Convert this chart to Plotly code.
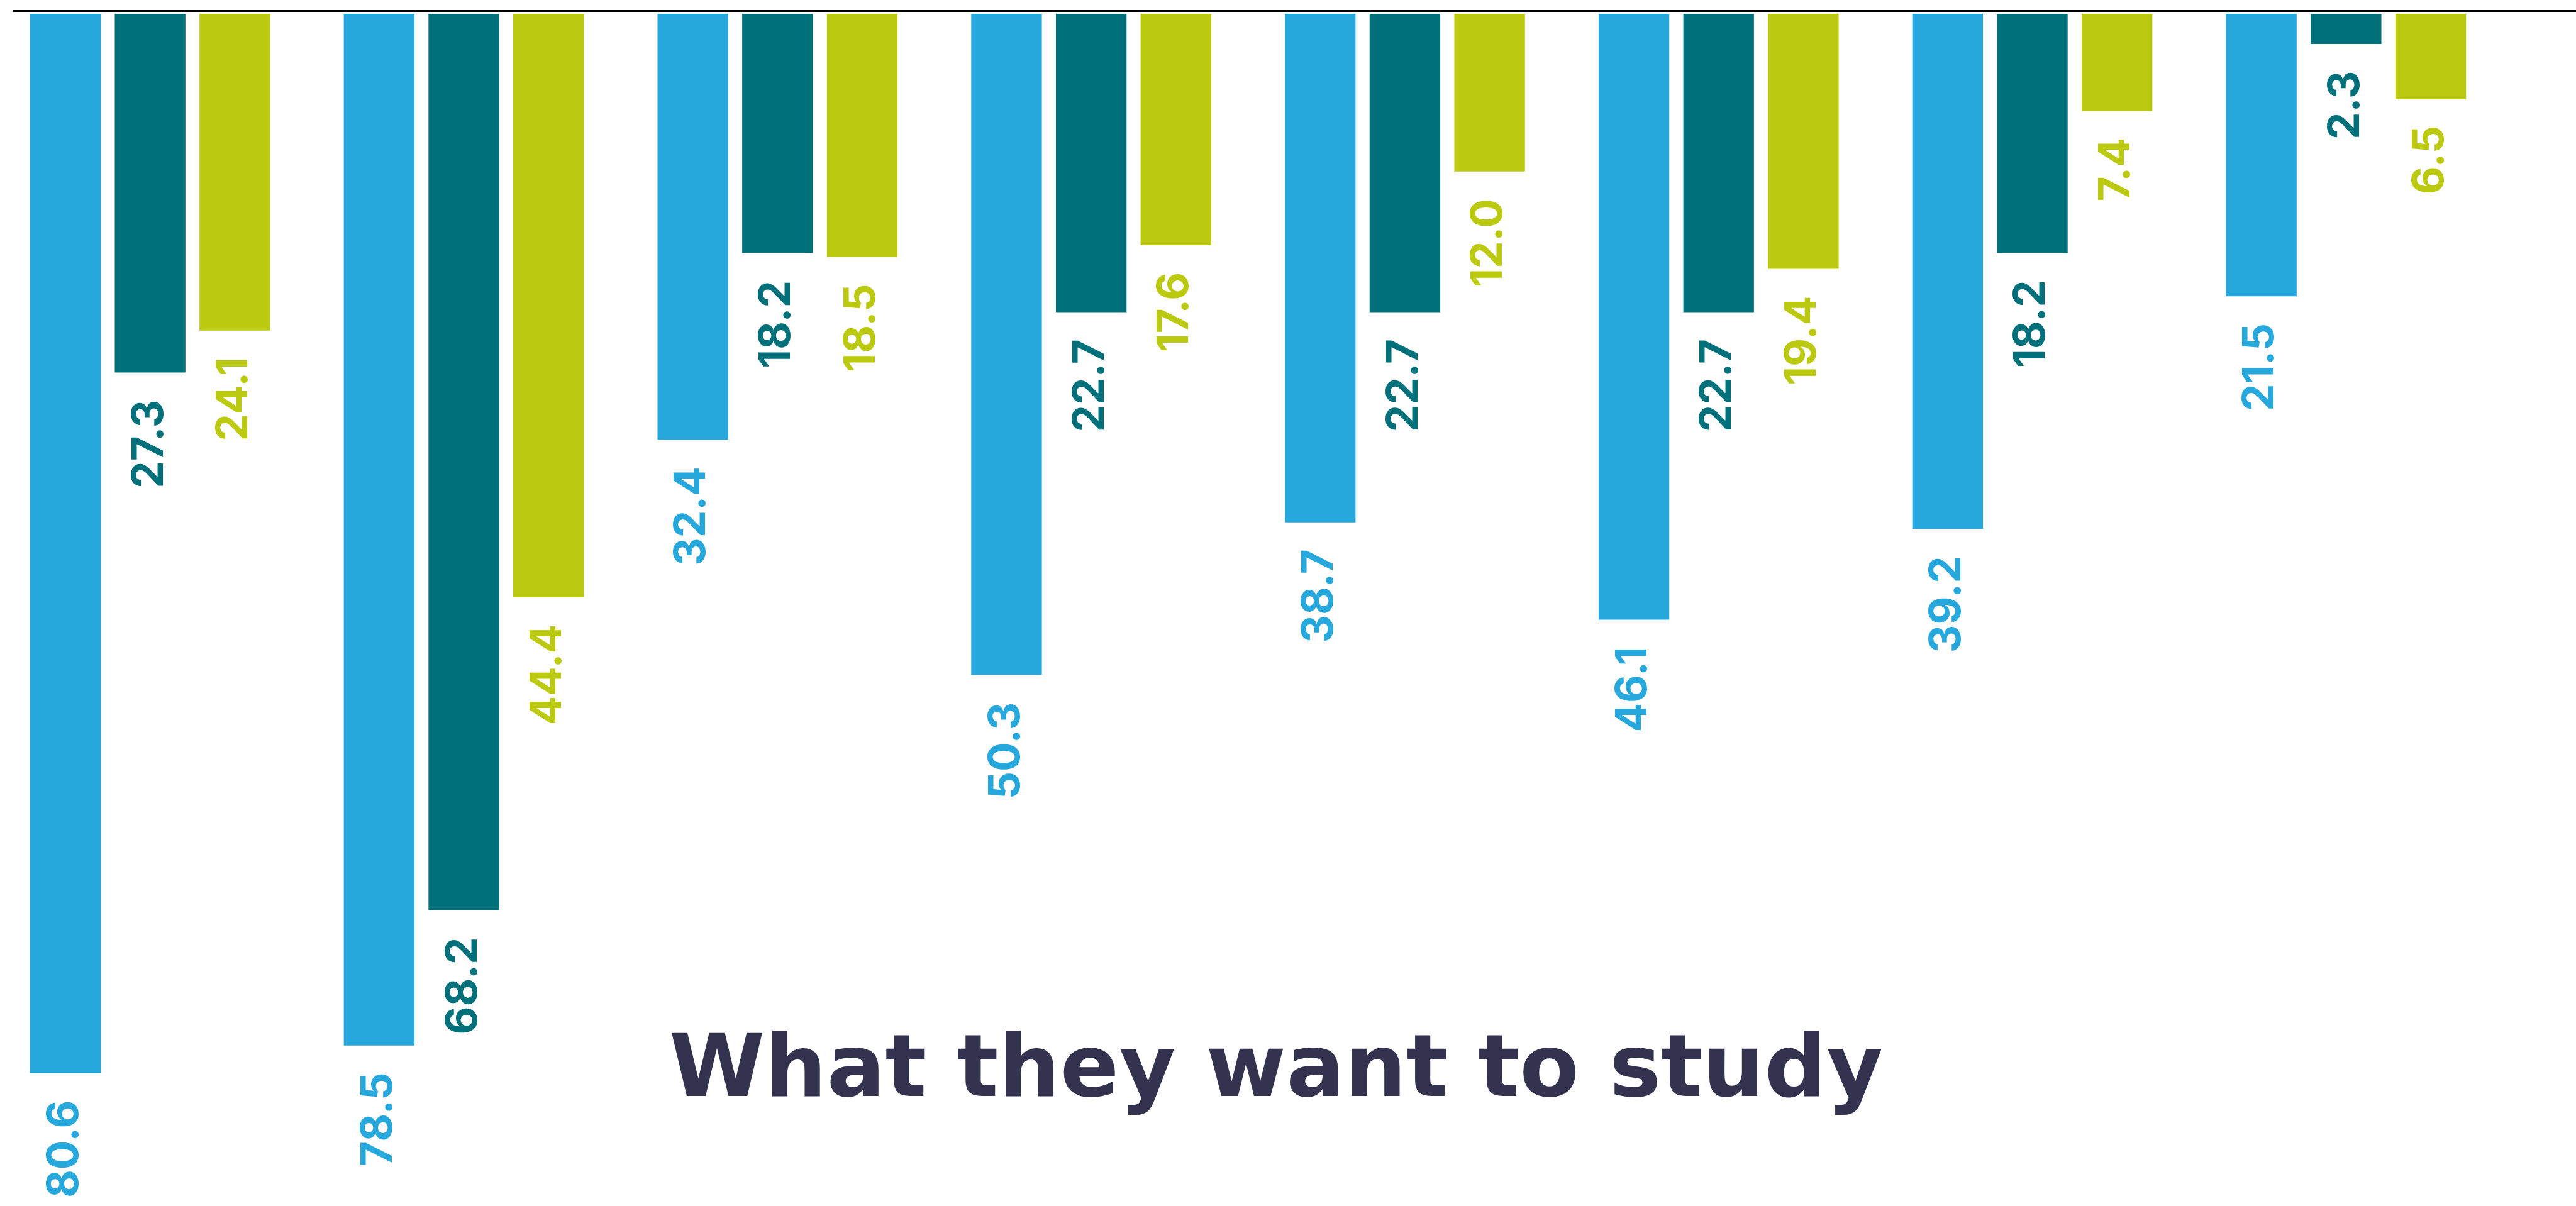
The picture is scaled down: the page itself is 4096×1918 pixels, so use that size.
import plotly.graph_objects as go

# ---- data -------------------------------------------------------------
categories = ["A", "B", "C", "D", "E", "F", "G", "H"]
series_names = ["Group 1", "Group 2", "Group 3"]
values_blue = [80.6, 78.5, 32.4, 50.3, 38.7, 46.1, 39.2, 21.5]
values_teal = [27.3, 68.2, 18.2, 22.7, 22.7, 22.7, 18.2, 2.3]
values_lime = [24.1, 44.4, 18.5, 17.6, 12.0, 19.4, 7.4, 6.5]
title_text = "What they want to study"

# ---- style ------------------------------------------------------------
colors = ["#27A8DC", "#00707A", "#BBCA10"]
title_color = "#33324F"
W, H = 4096, 1918
S = 0.985                      # drawing scale

BARGAP = 0.19
BARGROUPGAP = 0.166
GROUP_PX = 506.4               # distance between category centres
UNIT_PX = 21.22                # pixels per percentage point
ZERO_PX = 22                   # top of the bars
LINE_PX = 19                   # top rule
LEFT_PX = 20                   # left end of the rule
FIRST_CENTER_PX = 242          # centre of first category
FULL_W, FULL_H = 4158, 1947

series = [values_blue, values_teal, values_lime]

fig = go.Figure()
for name, vals, col in zip(series_names, series, colors):
    fig.add_trace(go.Bar(
        x=categories, y=vals, name=name,
        marker=dict(color=col, line=dict(width=0)),
        hoverinfo="skip",
    ))

# value labels, rotated, hanging under each bar
slot = (1 - BARGAP) / len(series)
label_font = dict(family="Inter, 'DejaVu Sans', sans-serif", size=69, weight=700)
annotations = []
for k, (vals, col) in enumerate(zip(series, colors)):
    for i, v in enumerate(vals):
        annotations.append(dict(
            x=i + (k - 1) * slot, y=v, xref="x", yref="y",
            text=f"{v:.1f}", showarrow=False, textangle=-90,
            xanchor="center", yanchor="top",
            xshift=-5, yshift=-41,
            font=dict(color=col, **label_font),
        ))

# chart title
plot_top = LINE_PX * S
plot_h = H - plot_top
title_center_y = 1695
annotations.append(dict(
    x=(2060 * S - LEFT_PX * S) / (W - LEFT_PX * S),
    y=(H - title_center_y) / plot_h,
    xref="paper", yref="paper",
    text=f"<b>{title_text}</b>", showarrow=False,
    xanchor="center", yanchor="middle",
    font=dict(family="'DejaVu Sans', sans-serif", size=138, color=title_color),
))

fig.update_layout(
    width=W, height=H,
    barmode="group", bargap=BARGAP, bargroupgap=BARGROUPGAP,
    showlegend=False,
    paper_bgcolor="white", plot_bgcolor="white",
    margin=dict(l=LEFT_PX * S, r=0, t=plot_top, b=0, pad=0, autoexpand=False),
    annotations=annotations,
    xaxis=dict(
        range=[(LEFT_PX - FIRST_CENTER_PX) / GROUP_PX,
               (FULL_W - FIRST_CENTER_PX) / GROUP_PX],
        side="top", showline=True, linecolor="#000000", linewidth=3 * S,
        showticklabels=False, ticks="", showgrid=False, zeroline=False,
        fixedrange=True,
    ),
    yaxis=dict(
        range=[(FULL_H - ZERO_PX) / UNIT_PX, (LINE_PX - ZERO_PX) / UNIT_PX],
        showticklabels=False, ticks="", showgrid=False, zeroline=False,
        showline=False, fixedrange=True,
    ),
)

fig.write_html("out.html", config={"displayModeBar": False})
